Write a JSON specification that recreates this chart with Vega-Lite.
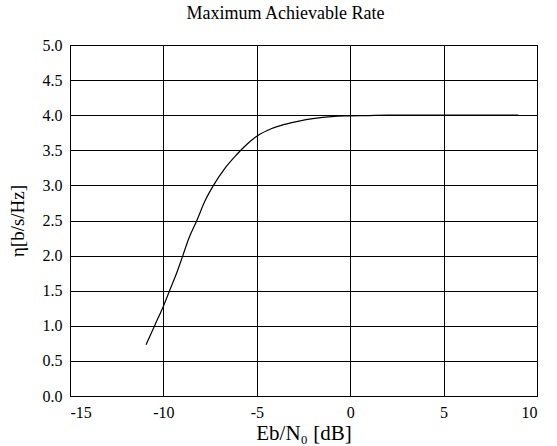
{
  "$schema": "https://vega.github.io/schema/vega-lite/v6.json",
  "width": 467,
  "height": 351,
  "autosize": {"type": "none"},
  "padding": {"left": 70, "top": 45, "right": 20, "bottom": 50},
  "background": "white",
  "title": {
    "text": "Maximum Achievable Rate",
    "font": "Liberation Serif",
    "fontSize": 18,
    "fontWeight": "normal",
    "color": "black",
    "anchor": "middle",
    "dx": -18,
    "offset": 14
  },
  "config": {
    "view": {"stroke": "black", "strokeWidth": 1},
    "axis": {
      "labelFont": "Liberation Serif",
      "labelFontSize": 16,
      "labelColor": "black",
      "titleFont": "Liberation Serif",
      "titleColor": "black",
      "titleFontWeight": "normal",
      "gridColor": "black",
      "gridOpacity": 1,
      "gridWidth": 1,
      "domainColor": "black",
      "ticks": false,
      "labelPadding": 8
    }
  },
  "data": {
    "values": [
      {"ebn0": -10.93, "eta": 0.73},
      {"ebn0": -10.44, "eta": 1.02},
      {"ebn0": -10.0, "eta": 1.28},
      {"ebn0": -9.64, "eta": 1.52},
      {"ebn0": -9.28, "eta": 1.76},
      {"ebn0": -8.96, "eta": 2.0},
      {"ebn0": -8.66, "eta": 2.23},
      {"ebn0": -8.21, "eta": 2.5},
      {"ebn0": -7.77, "eta": 2.78},
      {"ebn0": -7.32, "eta": 3.0},
      {"ebn0": -6.69, "eta": 3.25},
      {"ebn0": -6.07, "eta": 3.44},
      {"ebn0": -5.71, "eta": 3.54},
      {"ebn0": -5.0, "eta": 3.7},
      {"ebn0": -4.2, "eta": 3.81},
      {"ebn0": -3.5, "eta": 3.87},
      {"ebn0": -2.68, "eta": 3.92},
      {"ebn0": -2.0, "eta": 3.95},
      {"ebn0": -1.0, "eta": 3.98},
      {"ebn0": 0.0, "eta": 3.99},
      {"ebn0": 1.0, "eta": 3.995},
      {"ebn0": 2.0, "eta": 4.0},
      {"ebn0": 4.0, "eta": 4.0},
      {"ebn0": 6.0, "eta": 4.0},
      {"ebn0": 9.0, "eta": 4.0}
    ]
  },
  "mark": {"type": "line", "color": "black", "strokeWidth": 1.2, "interpolate": "monotone"},
  "encoding": {
    "x": {
      "field": "ebn0",
      "type": "quantitative",
      "scale": {"domain": [-15, 10], "nice": false, "zero": false},
      "axis": {
        "values": [-15, -10, -5, 0, 5, 10],
        "labelExpr": "toString(datum.value)",
        "labelFont": "Liberation Serif",
        "labelFontSize": 16,
        "title": "Eb/N₀ [dB]",
        "titleFontSize": 21,
        "titlePadding": 2
      }
    },
    "y": {
      "field": "eta",
      "type": "quantitative",
      "scale": {"domain": [0, 5], "nice": false},
      "axis": {
        "values": [0, 0.5, 1, 1.5, 2, 2.5, 3, 3.5, 4, 4.5, 5],
        "format": ".1f",
        "labelFont": "Liberation Serif",
        "labelFontSize": 16,
        "title": "η[b/s/Hz]",
        "titleFontSize": 19,
        "titlePadding": 15
      }
    }
  }
}
